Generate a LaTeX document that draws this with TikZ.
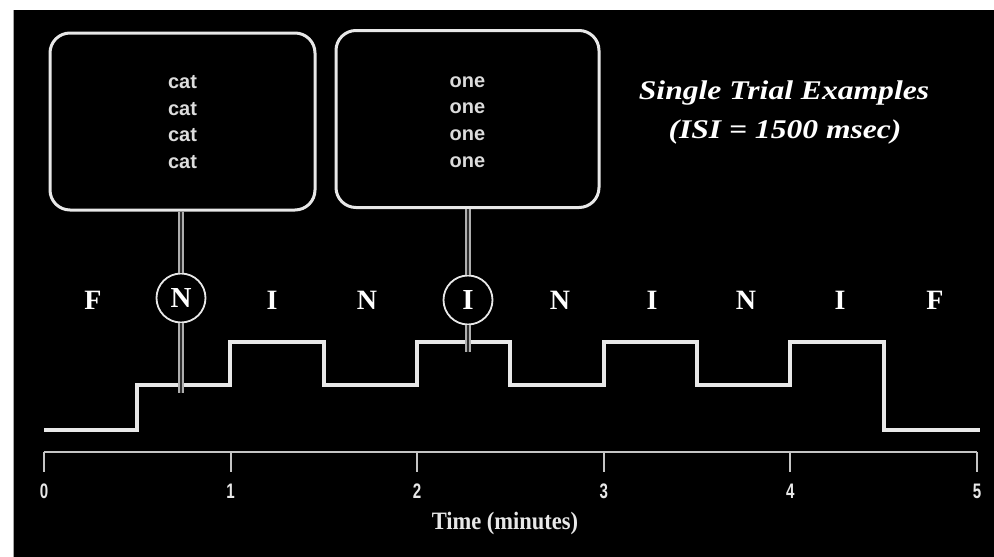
\documentclass[tikz,border=0pt]{standalone}
\usepackage{fontspec}
\setmainfont{Liberation Serif}
\setsansfont{Liberation Sans}
\definecolor{ln}{HTML}{E8E8E8}
\definecolor{txt}{HTML}{DCDCDC}
\begin{document}
\begin{tikzpicture}[x=1pt,y=-1pt,
  wordbox/.style={draw=ln, line width=3pt, rounded corners=20pt, fill=black},
  words/.style={text=txt, align=center, inner sep=0pt, font=\sffamily\bfseries\fontsize{20}{26.7}\selectfont},
  circ/.style={circle, draw=ln, line width=1.8pt, minimum size=49pt, inner sep=0pt,
    text=white, font=\rmfamily\bfseries\fontsize{29}{30}\selectfont},
  lett/.style={text=white, inner sep=0pt, font=\rmfamily\bfseries\fontsize{28}{30}\selectfont},
  conn/.style={draw=ln!75!black, line width=1.4pt, double=gray!35!black, double distance=2.6pt},
  wave/.style={draw=ln, line width=3.2pt, line join=miter},
  axisline/.style={draw=ln!85!black, line width=2.5pt},
  ticklab/.style={text=ln, font=\sffamily\bfseries\fontsize{21}{22}\selectfont},
  ttl/.style={text=white, font=\rmfamily\bfseries\itshape\fontsize{27}{30}\selectfont},
  axlab/.style={text=ln, font=\rmfamily\bfseries\fontsize{25}{26}\selectfont}
]
\useasboundingbox (0,0) rectangle (994,557);
\fill[white] (0,0) rectangle (994,557);
\fill[black] (14,10) rectangle (994,557);
\draw[gray!70, line width=1pt] (13.5,10) -- (13.5,557);

% word boxes
\node[wordbox, minimum width=265pt, minimum height=177pt] (box1) at (182.5,121.5) {};
\node[words] (w1) at (182.5,122) {cat\\cat\\cat\\cat};
\node[wordbox, minimum width=263pt, minimum height=177pt] (box2) at (467.5,119) {};
\node[words] (w2) at (467.5,122) {one\\one\\one\\one};

% title
\node[ttl] (title1) at (784,93) {\scalebox{1.17}[1]{Single Trial Examples}};
\node[ttl] (title2) at (785,132) {\scalebox{1.17}[1]{(ISI = 1500 msec)}};

% waveform
\draw[wave] (44,430) -- (137,430) -- (137,385) -- (230,385) -- (230,342) -- (324,342)
  -- (324,385) -- (417,385) -- (417,342) -- (510,342) -- (510,385) -- (604,385)
  -- (604,342) -- (697,342) -- (697,385) -- (790,385) -- (790,342) -- (884,342)
  -- (884,430) -- (980,430);

% condition letters
\node[lett] (l1) at (93,300) {F};
\node[circ] (cN) at (181,298) {N};
\node[lett] (l3) at (272,300) {I};
\node[lett] (l4) at (367,300) {N};
\node[circ] (cI) at (468,300) {I};
\node[lett] (l6) at (560,300) {N};
\node[lett] (l7) at (652,300) {I};
\node[lett] (l8) at (746,300) {N};
\node[lett] (l9) at (840,300) {I};
\node[lett] (l10) at (935,300) {F};

% connectors
\coordinate (nEnd) at (181,393);
\coordinate (iEnd) at (468,352);
\draw[conn] (box1.south -| cN.north) -- (cN.north);
\draw[conn] (cN.south) -- (nEnd);
\draw[conn] (box2.south -| cI.north) -- (cI.north);
\draw[conn] (cI.south) -- (iEnd);

% time axis
\draw[axisline] (44,452) -- (977,452);
\foreach \t/\xx in {0/44,1/230.6,2/417.2,3/603.8,4/790.4,5/977}{
  \draw[axisline, line width=2pt] (\xx,452) -- (\xx,472);
  \node[ticklab] (tick\t) at (\xx,491) {\scalebox{0.72}[1]{\t}};
}
\node[axlab] (axl) at (505,523) {\scalebox{0.9}[1]{Time (minutes)}};
\end{tikzpicture}
\end{document}
